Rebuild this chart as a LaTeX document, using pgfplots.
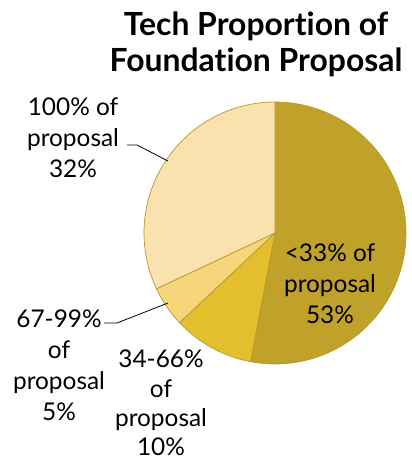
\documentclass[border=0pt]{standalone}
\usepackage{pgfplots}
\pgfplotsset{compat=1.18}
\usepackage{fontspec}
\setmainfont{Lato}[Ligatures={NoCommon}]
\definecolor{sA}{HTML}{C0A12A}
\definecolor{sB}{HTML}{E3BF2E}
\definecolor{sC}{HTML}{F5D67A}
\definecolor{sD}{HTML}{F9E2AE}
\definecolor{edge}{HTML}{B8972C}
% shares (percent), clockwise from 12 o'clock
\def\pA{53}\def\pB{10}\def\pC{5}\def\pD{32}
\def\cx{275}\def\cy{230}\def\rr{131}
\begin{document}
\begin{tikzpicture}
\pgfmathsetmacro{\aA}{90}
\pgfmathsetmacro{\aB}{90-3.6*\pA}
\pgfmathsetmacro{\aC}{\aB-3.6*\pB}
\pgfmathsetmacro{\aD}{\aC-3.6*\pC}
\pgfmathsetmacro{\aE}{\aD-3.6*\pD}
\begin{axis}[
  scale only axis, width=412bp, height=463bp,
  xmin=0, xmax=412, ymin=0, ymax=463,
  hide axis, clip=false,
]
\addplot[draw=none, forget plot] coordinates {(0,0) (412,463)};
\addplot[fill=sA, draw=edge, line width=0.7pt, domain=\aB:\aA, samples=80, variable=\t]
  ({\cx+\rr*cos(\t)},{\cy+\rr*sin(\t)}) -- (axis cs:\cx,\cy) -- cycle;
\addplot[fill=sB, draw=edge, line width=0.7pt, domain=\aC:\aB, samples=20, variable=\t]
  ({\cx+\rr*cos(\t)},{\cy+\rr*sin(\t)}) -- (axis cs:\cx,\cy) -- cycle;
\addplot[fill=sC, draw=edge, line width=0.7pt, domain=\aD:\aC, samples=12, variable=\t]
  ({\cx+\rr*cos(\t)},{\cy+\rr*sin(\t)}) -- (axis cs:\cx,\cy) -- cycle;
\addplot[fill=sD, draw=edge, line width=0.7pt, domain=\aE:\aD, samples=60, variable=\t]
  ({\cx+\rr*cos(\t)},{\cy+\rr*sin(\t)}) -- (axis cs:\cx,\cy) -- cycle;
\addplot[black, line width=0.8pt] coordinates {(127,318) (137,318) (168,302)};
\addplot[black, line width=0.8pt] coordinates {(104,140) (117,140) (168,160)};
\node[align=center, inner sep=0, font={\fontsize{32}{36}\selectfont\bfseries}] at (axis cs:256,419) {Tech Proportion of\\Foundation Proposal};
\node[align=center, inner sep=0, font={\fontsize{24.5}{31}\selectfont}] at (axis cs:73,325) {100\% of\\proposal\\32\%};
\node[align=center, inner sep=0, font={\fontsize{24.5}{31}\selectfont}] at (axis cs:59,98) {67-99\%\\of\\proposal\\5\%};
\node[align=center, inner sep=0, font={\fontsize{24.5}{29.5}\selectfont}] at (axis cs:161,60) {34-66\%\\of\\proposal\\10\%};
\node[align=center, inner sep=0, font={\fontsize{24.5}{31}\selectfont}] at (axis cs:330,179) {<33\% of\\proposal\\53\%};
\end{axis}
\end{tikzpicture}
\end{document}
